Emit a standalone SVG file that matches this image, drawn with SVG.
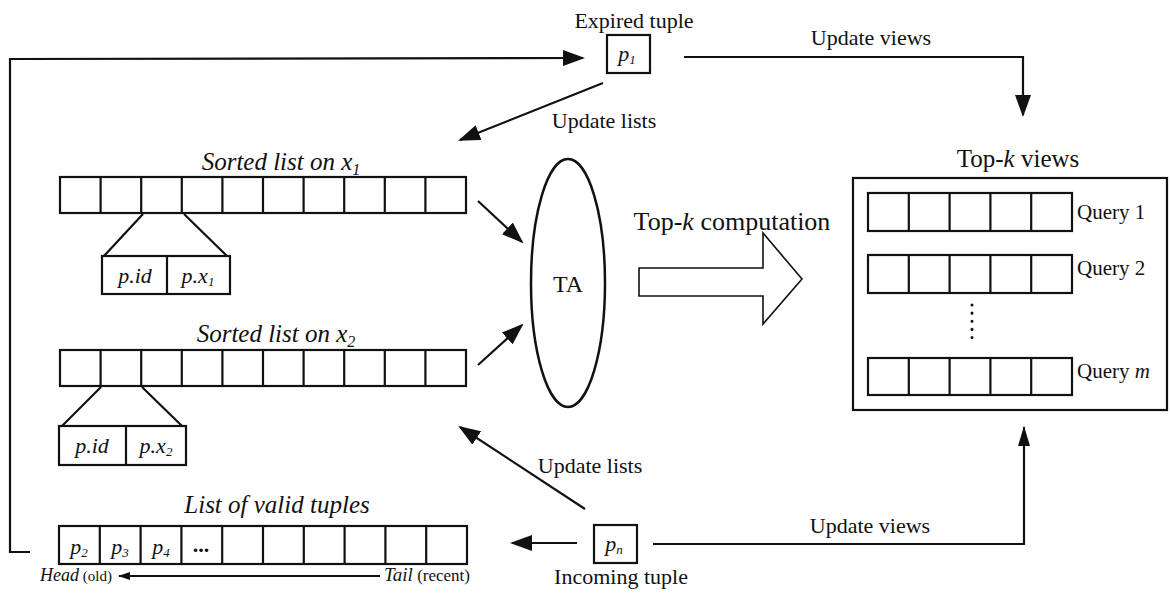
<svg xmlns="http://www.w3.org/2000/svg" width="1170" height="594" viewBox="0 0 1170 594">
  <style>
    text { font-family: "Liberation Serif", "Times New Roman", serif; fill: #111; }
    .lbl { font-size: 22px; }
    .ttl { font-size: 25px; font-style: italic; }
    .it { font-style: italic; }
    .cell { fill: #fff; stroke: #111; stroke-width: 2.2; }
    .frame { fill: #fff; stroke: #111; stroke-width: 2.2; }
    .wire { fill: none; stroke: #111; stroke-width: 2.2; }
    .thin { fill: none; stroke: #111; stroke-width: 1.8; }
  </style>
  <defs>
    <marker id="ah" viewBox="0 0 22 16" markerWidth="22" markerHeight="16" refX="20" refY="8" orient="auto" markerUnits="userSpaceOnUse">
      <path d="M0,0 L22,8 L0,16 z" fill="#111"/>
    </marker>
    <marker id="ahs" viewBox="0 0 12 8" markerWidth="12" markerHeight="8" refX="11" refY="4" orient="auto" markerUnits="userSpaceOnUse">
      <path d="M0,0 L12,4 L0,8 z" fill="#111"/>
    </marker>
    <marker id="ahn" viewBox="0 0 20 12" markerWidth="20" markerHeight="12" refX="19" refY="6" orient="auto" markerUnits="userSpaceOnUse">
      <path d="M0,0 L20,6 L0,12 z" fill="#111"/>
    </marker>
  </defs>
  <rect width="1170" height="594" fill="#fff"/>

  <!-- connectors -->
  <g id="connectors">
    <!-- expired tuple feedback loop -->
    <polyline class="wire" points="30,552 10,552 10,59 583,58" marker-end="url(#ah)"/>
    <!-- expired tuple -> views -->
    <polyline class="wire" points="684,57 1023,57 1023,115" marker-end="url(#ah)"/>
    <!-- expired tuple -> sorted lists -->
    <line class="wire" x1="603" y1="83" x2="460" y2="140" marker-end="url(#ah)"/>
    <!-- sorted lists -> TA -->
    <line class="wire" x1="478" y1="201" x2="522" y2="242" marker-end="url(#ah)"/>
    <line class="wire" x1="478" y1="365" x2="522" y2="325" marker-end="url(#ah)"/>
    <!-- incoming tuple -> sorted lists -->
    <line class="wire" x1="585" y1="509" x2="460" y2="427" marker-end="url(#ah)"/>
    <!-- incoming tuple -> valid tuples -->
    <line class="wire" x1="577" y1="543" x2="512" y2="543" marker-end="url(#ah)"/>
    <!-- incoming tuple -> views -->
    <polyline class="wire" points="653,544 1024,544 1024,427" marker-end="url(#ahn)"/>
    <!-- head / tail direction -->
    <line class="thin" x1="380" y1="576" x2="119" y2="576" marker-end="url(#ahs)"/>
  </g>

  <g id="edge-labels">
    <text class="lbl" x="871" y="45" text-anchor="middle">Update views</text>
    <text class="lbl" x="604" y="128" text-anchor="middle">Update lists</text>
    <text class="lbl" x="590" y="473" text-anchor="middle">Update lists</text>
    <text class="lbl" x="870" y="533" text-anchor="middle">Update views</text>
  </g>

  <!-- expired tuple -->
  <g id="expired-tuple">
    <text class="lbl" x="634" y="28" text-anchor="middle">Expired tuple</text>
    <rect class="frame" x="607" y="35" width="43" height="38"/>
    <text class="lbl it" x="627" y="61" text-anchor="middle">p<tspan font-size="13" dy="3">1</tspan></text>
  </g>

  <!-- incoming tuple -->
  <g id="incoming-tuple">
    <rect class="frame" x="594" y="525" width="43" height="38"/>
    <text class="lbl it" x="614" y="551" text-anchor="middle">p<tspan font-size="13" dy="3">n</tspan></text>
    <text class="lbl" x="621" y="584" text-anchor="middle">Incoming tuple</text>
  </g>

  <!-- sorted list on x1 -->
  <g id="sorted-list-x1">
    <text class="ttl" x="281" y="170" text-anchor="middle">Sorted list on x<tspan font-size="16" dy="5">1</tspan></text>
    <rect class="cell" x="60" y="177" width="406" height="36"/>
    <path class="wire" d="M100.6,177V213M141.2,177V213M181.8,177V213M222.4,177V213M263,177V213M303.6,177V213M344.2,177V213M384.8,177V213M425.4,177V213"/>
    <path class="wire" d="M143,214L104,256M184,214L227,256"/>
    <rect class="cell" x="102" y="256" width="128" height="38"/>
    <line class="wire" x1="167" y1="256" x2="167" y2="294"/>
    <text class="lbl it" x="135" y="283" text-anchor="middle">p.id</text>
    <text class="lbl it" x="198" y="283" text-anchor="middle">p.x<tspan font-size="13" dy="3">1</tspan></text>
  </g>

  <!-- sorted list on x2 -->
  <g id="sorted-list-x2">
    <text class="ttl" x="276" y="342" text-anchor="middle">Sorted list on x<tspan font-size="16" dy="5">2</tspan></text>
    <rect class="cell" x="60" y="350" width="406" height="36"/>
    <path class="wire" d="M100.6,350V386M141.2,350V386M181.8,350V386M222.4,350V386M263,350V386M303.6,350V386M344.2,350V386M384.8,350V386M425.4,350V386"/>
    <path class="wire" d="M101,387L62,426M142,387L182,426"/>
    <rect class="cell" x="59" y="426" width="127" height="39"/>
    <line class="wire" x1="126" y1="426" x2="126" y2="465"/>
    <text class="lbl it" x="92" y="453" text-anchor="middle">p.id</text>
    <text class="lbl it" x="156" y="453" text-anchor="middle">p.x<tspan font-size="13" dy="3">2</tspan></text>
  </g>

  <!-- list of valid tuples -->
  <g id="valid-tuples">
    <text class="ttl" x="277" y="513" text-anchor="middle">List of valid tuples</text>
    <rect class="cell" x="59" y="526" width="408" height="38"/>
    <path class="wire" d="M99.8,526V564M140.6,526V564M181.4,526V564M222.2,526V564M263,526V564M303.8,526V564M344.6,526V564M385.4,526V564M426.2,526V564"/>
    <text class="lbl it" x="79" y="554" text-anchor="middle">p<tspan font-size="13" dy="3">2</tspan></text>
    <text class="lbl it" x="120" y="554" text-anchor="middle">p<tspan font-size="13" dy="3">3</tspan></text>
    <text class="lbl it" x="161" y="554" text-anchor="middle">p<tspan font-size="13" dy="3">4</tspan></text>
    <text class="lbl" x="201" y="552" text-anchor="middle" font-weight="bold">...</text>
    <text x="40" y="581" font-size="18"><tspan class="it">Head</tspan><tspan font-size="15"> (old)</tspan></text>
    <text x="384" y="581" font-size="19"><tspan class="it">Tail</tspan><tspan font-size="17"> (recent)</tspan></text>
  </g>

  <!-- threshold algorithm -->
  <g id="ta">
    <ellipse cx="568" cy="283" rx="37" ry="124" fill="#fff" stroke="#111" stroke-width="2.5"/>
    <text x="568" y="292" font-size="24" text-anchor="middle">TA</text>
  </g>

  <!-- top-k computation arrow -->
  <g id="topk-computation">
    <text x="732" y="230" font-size="26" text-anchor="middle">Top-<tspan class="it">k</tspan> computation</text>
    <polygon points="639,268 763,268 763,233 802,279 763,324 763,296 639,296" fill="#fff" stroke="#111" stroke-width="1.6"/>
  </g>

  <!-- top-k views -->
  <g id="topk-views">
    <text x="1018" y="167" font-size="25" text-anchor="middle">Top-<tspan class="it">k</tspan> views</text>
    <rect class="frame" x="853" y="178" width="314" height="232"/>
    <rect class="cell" x="868" y="193" width="204" height="38"/>
    <path class="wire" d="M908.8,193V231M949.6,193V231M990.4,193V231M1031.2,193V231"/>
    <rect class="cell" x="868" y="255" width="204" height="38"/>
    <path class="wire" d="M908.8,255V293M949.6,255V293M990.4,255V293M1031.2,255V293"/>
    <rect class="cell" x="868" y="358" width="204" height="37"/>
    <path class="wire" d="M908.8,358V395M949.6,358V395M990.4,358V395M1031.2,358V395"/>
    <line x1="972" y1="305" x2="972" y2="340" stroke="#111" stroke-width="3" stroke-linecap="round" stroke-dasharray="0.1 8"/>
    <text x="1077" y="219" font-size="21">Query 1</text>
    <text x="1077" y="275" font-size="21">Query 2</text>
    <text x="1077" y="378" font-size="21">Query <tspan class="it">m</tspan></text>
  </g>
</svg>
